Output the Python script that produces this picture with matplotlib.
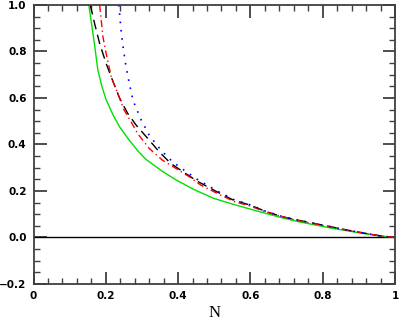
import matplotlib
matplotlib.use("Agg")
import matplotlib.pyplot as plt
from matplotlib.ticker import MultipleLocator, FuncFormatter

# values
n_green = [0.153, 0.160, 0.167, 0.178, 0.190, 0.201, 0.220, 0.238, 0.265, 0.290, 0.311,
           0.357, 0.394, 0.444, 0.499, 0.554, 0.609, 0.642, 0.687, 0.733, 0.825, 0.917, 0.980, 1.0]
v_green = [1.0, 0.925, 0.85, 0.72, 0.645, 0.592, 0.527, 0.476, 0.418, 0.37, 0.336,
           0.284, 0.248, 0.206, 0.168, 0.142, 0.118, 0.104, 0.085, 0.068, 0.040, 0.016, 0.003, 0.0]

n_black = [0.157, 0.169, 0.183, 0.201, 0.220, 0.238, 0.260, 0.284, 0.316, 0.348, 0.380,
           0.421, 0.453, 0.508, 0.554, 0.600, 0.642, 0.687, 0.733, 0.788, 0.871, 0.962, 1.0]
v_black = [1.0, 0.92, 0.834, 0.748, 0.670, 0.600, 0.535, 0.483, 0.426, 0.368, 0.318,
           0.275, 0.242, 0.196, 0.160, 0.139, 0.112, 0.090, 0.074, 0.057, 0.031, 0.006, 0.0]

n_red = [0.183, 0.192, 0.201, 0.215, 0.233, 0.250, 0.270, 0.288, 0.320, 0.357, 0.394,
         0.431, 0.463, 0.508, 0.554, 0.600, 0.642, 0.687, 0.733, 0.788, 0.871, 0.962, 1.0]
v_red = [1.0, 0.863, 0.791, 0.691, 0.619, 0.55, 0.497, 0.447, 0.383, 0.332, 0.297,
         0.261, 0.225, 0.19, 0.155, 0.135, 0.11, 0.09, 0.072, 0.056, 0.03, 0.006, 0.0]

n_blue = [0.236, 0.243, 0.249, 0.256, 0.265, 0.275, 0.298, 0.320, 0.353, 0.385, 0.417,
          0.453, 0.508, 0.554, 0.600, 0.642, 0.687, 0.733, 0.788, 0.871, 0.962, 1.0]
v_blue = [1.0, 0.877, 0.806, 0.734, 0.662, 0.59, 0.505, 0.44, 0.375, 0.325, 0.289,
          0.25, 0.2, 0.163, 0.14, 0.113, 0.091, 0.074, 0.057, 0.031, 0.006, 0.0]

fig = plt.figure(figsize=(3.99, 3.20), dpi=100)
ax = fig.add_axes([0.084, 0.1125, 0.906, 0.872])

ax.axhline(0, color="black", lw=1.0)
ax.plot(n_green, v_green, color="#00e000", lw=1.0)
ax.plot(n_black, v_black, color="black", lw=1.0, dashes=(7, 4))
ax.plot(n_red, v_red, color="red", lw=1.0, dashes=(5, 2.5, 1, 2.5))
ax.plot(n_blue, v_blue, color="blue", lw=1.2, dashes=(1, 4))

ax.set_xlim(0, 1)
ax.set_ylim(-0.2, 1.0)
ax.xaxis.set_major_locator(MultipleLocator(0.2))
ax.xaxis.set_minor_locator(MultipleLocator(0.04))
ax.yaxis.set_major_locator(MultipleLocator(0.2))
ax.yaxis.set_minor_locator(MultipleLocator(0.05))


def xfmt(v, pos):
    if abs(v) < 1e-9:
        return "0"
    if abs(v - 1) < 1e-9:
        return "1"
    return "%.1f" % v


def yfmt(v, pos):
    s = "%.1f" % v
    if s == "-0.0":
        s = "0.0"
    return s.replace("-", "\u2212")


ax.xaxis.set_major_formatter(FuncFormatter(xfmt))
ax.yaxis.set_major_formatter(FuncFormatter(yfmt))

spine_col = "#404040"
for s in ax.spines.values():
    s.set_linewidth(1.3)
    s.set_color(spine_col)
ax.tick_params(which="both", direction="in", top=True, right=True, color=spine_col)
ax.tick_params(which="major", length=9, width=1.3, pad=5)
ax.tick_params(which="minor", length=4.5, width=1.0)
for lab in ax.get_xticklabels() + ax.get_yticklabels():
    lab.set_fontweight("bold")
    lab.set_fontsize(7.5)

ax.set_xlabel("N", family="Liberation Serif", fontsize=12, labelpad=3)

fig.savefig("out.png", dpi=100)
